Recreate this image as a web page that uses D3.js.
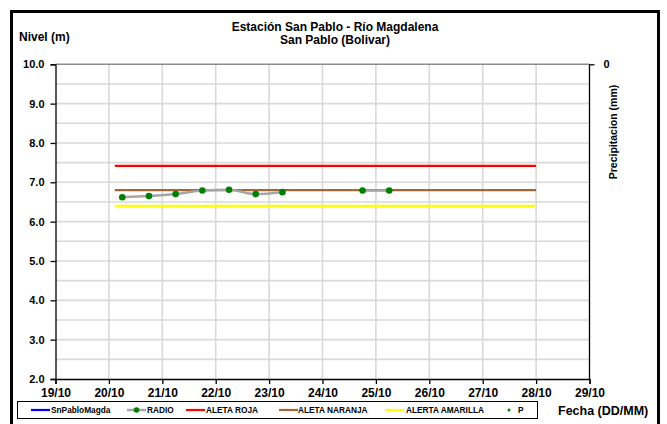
<!DOCTYPE html>
<html><head><meta charset="utf-8">
<script src="https://cdn.jsdelivr.net/npm/d3@7"></script>
<style>body{margin:0;background:#fff}svg{display:block;font-family:"Liberation Sans",Arial,sans-serif}</style>
</head><body><svg id="c" width="667" height="424"></svg>
<script>
const xTicks = ["2012-10-19","2012-10-20","2012-10-21","2012-10-22","2012-10-23","2012-10-24","2012-10-25","2012-10-26","2012-10-27","2012-10-28","2012-10-29"];
const yTicks = [2,3,4,5,6,7,8,9,10];
const radioTimes = ["2012-10-20T06:00","2012-10-20T18:00","2012-10-21T06:00","2012-10-21T18:00","2012-10-22T06:00","2012-10-22T18:00","2012-10-23T06:00","2012-10-23T18:00","2012-10-24T06:00","2012-10-24T18:00","2012-10-25T06:00"];
const radioValues = [6.62,6.65,6.70,6.79,6.81,6.70,6.75,null,null,6.79,6.79];
const alertTimes = ["2012-10-20T02:40","2012-10-28T00:00"];
const alertaRoja = 7.42, alertaNaranja = 6.80, alertaAmarilla = 6.40;
const precipTicks = [0];
const legendItems = ["SnPabloMagda","RADIO","ALETA ROJA","ALETA NARANJA","ALERTA AMARILLA","P"];
const legendColors = ["#0000ff","#a6a6a6","#ff0000","#a0673a","#ffff00","#008000"];

const svg = d3.select("#c");
const parse = s => new Date(s);
const L = 55.5, R = 589.5, T = 64.3, B = 379;
const x = d3.scaleTime().domain([parse(xTicks[0]), parse(xTicks[xTicks.length-1])]).range([L, R]);
const y = d3.scaleLinear().domain([2, 10]).range([B, T]);

// frame
svg.append("rect").attr("x",11.5).attr("y",11.5).attr("width",647).attr("height",415)
  .attr("fill","none").attr("stroke","#000").attr("stroke-width",3);

// gridlines
const hg = d3.range(2.5, 10, 0.5);
svg.append("g").selectAll("line").data(hg).join("line")
  .attr("x1",L).attr("x2",R).attr("y1",d=>y(d)).attr("y2",d=>y(d))
  .attr("stroke","#d9d9d9").attr("stroke-width",1.6);
svg.append("g").selectAll("line").data(xTicks.slice(1,-1)).join("line")
  .attr("x1",d=>x(parse(d))).attr("x2",d=>x(parse(d))).attr("y1",T).attr("y2",B)
  .attr("stroke","#d9d9d9").attr("stroke-width",1.6);
svg.append("line").attr("x1",L).attr("x2",R).attr("y1",T).attr("y2",T).attr("stroke","#8c8c8c").attr("stroke-width",1.5);

// axes
const yAxis = svg.append("g").attr("transform",`translate(${L},0)`)
  .call(d3.axisLeft(y).tickValues(yTicks).tickFormat(d3.format(".1f")).tickSize(5).tickPadding(6));
const xAxis = svg.append("g").attr("transform",`translate(0,${B})`)
  .call(d3.axisBottom(x).tickValues(xTicks.map(parse)).tickFormat(d3.timeFormat("%d/%m")).tickSize(5).tickPadding(4));
const yP = d3.scaleLinear().domain([0,1]).range([T, B]);
const pAxis = svg.append("g").attr("transform",`translate(${R},0)`)
  .call(d3.axisRight(yP).tickValues(precipTicks).tickFormat(d3.format("d")).tickSize(5).tickPadding(9));
[yAxis,xAxis,pAxis].forEach(g=>{
  g.select(".domain").attr("stroke","#000").attr("stroke-width",1.3);
  g.selectAll(".tick line").attr("stroke","#000").attr("stroke-width",1.3);
  g.selectAll("text").attr("font-size",11).attr("font-weight","bold").attr("fill","#000")
    .attr("font-family","'Liberation Sans',Arial,sans-serif");
});
xAxis.selectAll("text").attr("font-size",12);
pAxis.select(".domain").attr("d",`M0,${T}V${B}`);

// alert lines
const ax = alertTimes.map(parse);
[[alertaRoja,"#ff0000"],[alertaNaranja,"#a0673a"],[alertaAmarilla,"#ffff00"]].forEach(([v,c])=>{
  svg.append("line").attr("x1",x(ax[0])).attr("x2",x(ax[1])).attr("y1",y(v)).attr("y2",y(v))
    .attr("stroke",c).attr("stroke-width",2.2);
});

// radio series
const rd = radioTimes.map((t,i)=>({t:parse(t),v:radioValues[i]}));
const line = d3.line().defined(d=>d.v!=null).x(d=>x(d.t)).y(d=>y(d.v)).curve(d3.curveMonotoneX);
svg.append("path").datum(rd).attr("d",line).attr("fill","none").attr("stroke","#a6a6a6").attr("stroke-width",2.5);
svg.append("g").selectAll("circle").data(rd.filter(d=>d.v!=null)).join("circle")
  .attr("cx",d=>x(d.t)).attr("cy",d=>y(d.v)).attr("r",3.3).attr("fill","#008000");

// titles
const bold = sel => sel.attr("font-weight","bold").attr("fill","#000");
bold(svg.append("text").attr("x",335).attr("y",31).attr("text-anchor","middle").attr("font-size",12).text("Estación San Pablo - Río Magdalena"));
bold(svg.append("text").attr("x",335).attr("y",44).attr("text-anchor","middle").attr("font-size",12).text("San Pablo (Bolivar)"));
bold(svg.append("text").attr("x",19).attr("y",41).attr("font-size",12).text("Nivel (m)"));
bold(svg.append("text").attr("transform","translate(617,132) rotate(-90)").attr("text-anchor","middle").attr("font-size",10.5).text("Precipitacion (mm)"));
bold(svg.append("text").attr("x",558).attr("y",415).attr("font-size",12.5).text("Fecha (DD/MM)"));

// legend
svg.append("rect").attr("x",17.5).attr("y",401.5).attr("width",520).attr("height",17).attr("fill","#fff").attr("stroke","#000").attr("stroke-width",1);
const lx = [31,127,186,279,385,506];
const tx = [51,147,206,298,406,518];
legendItems.forEach((name,i)=>{
  const g = svg.append("g");
  const cy = 410;
  if (i===5) {
    g.append("circle").attr("cx",lx[i]+3).attr("cy",cy).attr("r",1.5).attr("fill",legendColors[i]);
  } else {
    g.append("line").attr("x1",lx[i]).attr("x2",lx[i]+19).attr("y1",cy).attr("y2",cy).attr("stroke",legendColors[i]).attr("stroke-width",i===1?2.5:2.2);
    if (i===1) g.append("circle").attr("cx",lx[i]+9.5).attr("cy",cy).attr("r",2.8).attr("fill","#008000");
  }
  bold(g.append("text").attr("x",tx[i]).attr("y",cy+3).attr("font-size",8.3).text(name));
});
</script></body></html>
